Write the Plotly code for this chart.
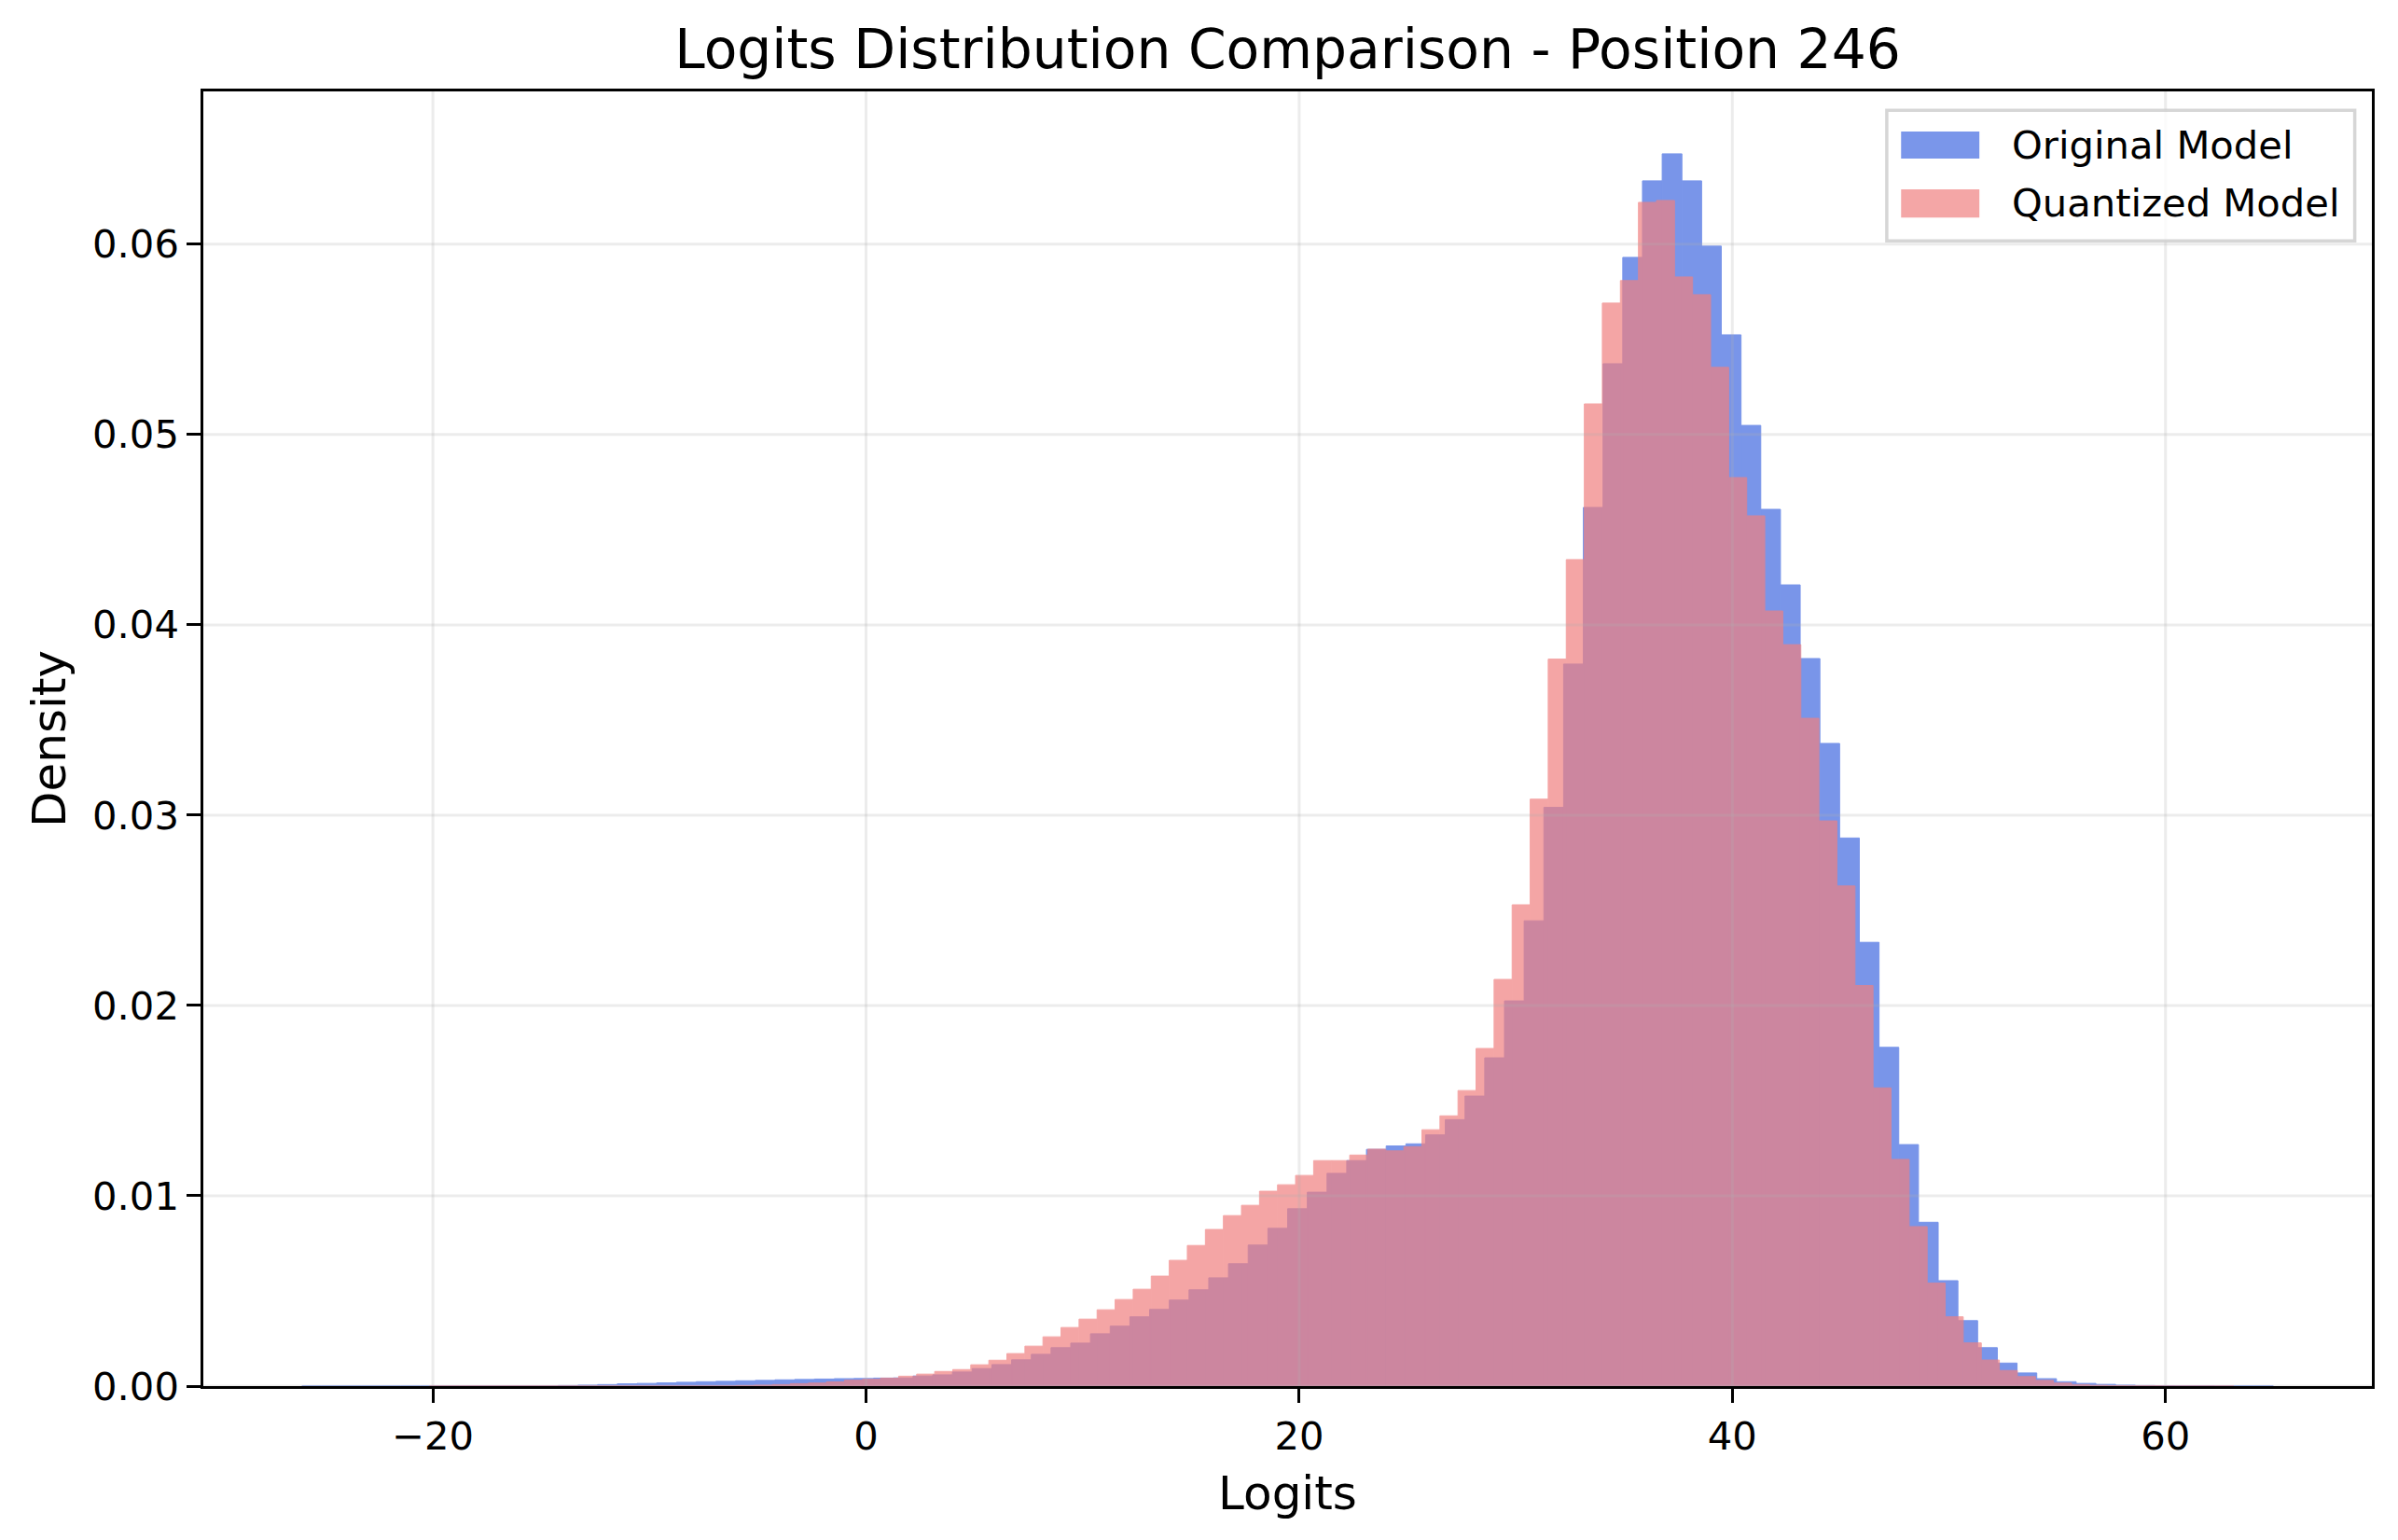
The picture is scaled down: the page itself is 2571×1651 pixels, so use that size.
import numpy as np
import plotly.graph_objects as go

# ---------------- data ----------------
BLUE_FIRST_EDGE = -26.05   # left edge of first "Original Model" bin
BLUE_BIN_WIDTH = 0.9103
RED_FIRST_EDGE = -20.16    # left edge of first "Quantized Model" bin
RED_BIN_WIDTH = 0.8332

original_density = [
    0.0, 0.0, 0.0, 0.0, 0.0, 0.0, 0.0, 0.0, 0.0, 0.0, 0.0, 0.0, 0.0,
    0.00003, 0.00005, 0.00008, 0.00012, 0.00014, 0.00017, 0.0002, 0.00023,
    0.00025, 0.00028, 0.0003, 0.00033, 0.00035, 0.00037, 0.00039, 0.0004, 0.00042,
    0.00043, 0.00053, 0.00059, 0.00074, 0.00092, 0.00113, 0.00138, 0.00167,
    0.00202, 0.00226, 0.00275, 0.00315, 0.00364, 0.00403, 0.00452, 0.00506,
    0.00569, 0.00643, 0.00741, 0.00829, 0.00932,
    0.01019, 0.01118, 0.01185, 0.01244, 0.01262, 0.01273, 0.0132, 0.0140,
    0.01524, 0.01725, 0.02024, 0.02445, 0.03041,
    0.03794, 0.04617, 0.05372, 0.05931, 0.06333, 0.06475, 0.06333, 0.0599,
    0.05524, 0.05048, 0.04607, 0.0421, 0.03823, 0.03377, 0.0288,
    0.02332, 0.0178, 0.01269, 0.00861, 0.00554, 0.00344, 0.00202, 0.00121,
    0.00069, 0.00039, 0.00023, 0.00014, 0.00009, 0.00005, 0.00003,
    0.00002, 0.00001, 0.00001, 0.0, 0.0, 0.0,
]

quantized_density = [
    0.0, 0.0, 0.0, 0.0, 0.0, 0.0, 0.0, 0.0, 0.0, 0.0, 0.0, 0.0, 0.0, 0.0, 0.0, 0.0, 0.0,
    0.00003, 0.00005, 0.00008, 0.00013, 0.00016,
    0.00022, 0.00031, 0.00036, 0.00042, 0.00052, 0.00063, 0.00077, 0.00087,
    0.00112, 0.00136, 0.00171, 0.0021, 0.00259, 0.00308, 0.00352, 0.00401,
    0.00455, 0.00509, 0.00578,
    0.00661, 0.00739, 0.00823, 0.00896, 0.0095, 0.01024, 0.01058, 0.01107,
    0.01185, 0.01185, 0.01214, 0.01245, 0.01236, 0.01258, 0.01347, 0.0142,
    0.01553, 0.01774, 0.02137, 0.02529, 0.03084,
    0.0382, 0.04343, 0.05161, 0.05691, 0.05809, 0.0622, 0.0623, 0.05828,
    0.05735, 0.05353, 0.04774, 0.04573, 0.04073, 0.03896, 0.03509, 0.0297,
    0.02628, 0.02105, 0.01567, 0.01191, 0.00838, 0.00541, 0.00364, 0.00227,
    0.00137, 0.00082, 0.0005, 0.0003, 0.00016, 0.00008, 0.00004,
    0.00002, 0.00001, 0.00001, 0.0, 0.0, 0.0, 0.0,
]

series_names = ["Original Model", "Quantized Model"]
x_tick_values = [-20, 0, 20, 40, 60]
x_tick_labels = ["\u221220", "0", "20", "40", "60"]
y_tick_values = [0.0, 0.01, 0.02, 0.03, 0.04, 0.05, 0.06]
y_tick_labels = ["0.00", "0.01", "0.02", "0.03", "0.04", "0.05", "0.06"]

X_RANGE = [-30.6, 69.53]
Y_RANGE = [0.0, 0.06803]

# ---------------- styling ----------------
FONT = "DejaVu Sans"
BLUE = "rgb(65,105,225)"
RED = "rgb(240,128,128)"
ALPHA = 0.7
TICK_PX = 41.7
LABEL_PX = 50
TITLE_PX = 58.3
GRID = "rgba(176,176,176,0.24)"
LW = 3.3
BODY_OFFSET = 8  # default page margin of the html body
FIG_W = 2571 - BODY_OFFSET
FIG_H = 1651 - BODY_OFFSET

orig_centers = BLUE_FIRST_EDGE + BLUE_BIN_WIDTH * (np.arange(len(original_density)) + 0.5)
quant_centers = RED_FIRST_EDGE + RED_BIN_WIDTH * (np.arange(len(quantized_density)) + 0.5)

fig = go.Figure()
fig.add_trace(go.Bar(
    x=orig_centers, y=original_density, width=BLUE_BIN_WIDTH,
    name=series_names[0], marker=dict(color=BLUE, line=dict(color=BLUE, width=1)),
    opacity=ALPHA, showlegend=False,
))
fig.add_trace(go.Bar(
    x=quant_centers, y=quantized_density, width=RED_BIN_WIDTH,
    name=series_names[1], marker=dict(color=RED, line=dict(color=RED, width=1)),
    opacity=ALPHA, showlegend=False,
))

# gridlines drawn above the bars (as matplotlib does)
shapes = []
for xv in x_tick_values:
    shapes.append(dict(type="line", xref="x", yref="paper", x0=xv, x1=xv, y0=0, y1=1,
                       line=dict(color=GRID, width=3), layer="above"))
for yv in y_tick_values:
    shapes.append(dict(type="line", xref="paper", yref="y", x0=0, x1=1, y0=yv, y1=yv,
                       line=dict(color=GRID, width=3), layer="above"))

# legend (drawn manually to match matplotlib's large patches)
shapes.append(dict(type="rect", xref="paper", yref="paper", x0=0.7763, x1=0.9921,
                   y0=0.8846, y1=0.9854, fillcolor="rgba(255,255,255,0.8)",
                   line=dict(color="rgba(204,204,204,0.8)", width=3.5), layer="above"))
legend_rows = [(0.9482, 0.9691, BLUE, 0.9586), (0.9025, 0.9244, RED, 0.9136)]
annotations = []
for (ya, yb, col, yc), name in zip(legend_rows, series_names):
    shapes.append(dict(type="rect", xref="paper", yref="paper", x0=0.7829, x1=0.8190,
                       y0=ya, y1=yb, fillcolor=col, opacity=ALPHA,
                       line=dict(width=0), layer="above"))
    annotations.append(dict(xref="paper", yref="paper", x=0.8333, y=yc, text=name,
                            showarrow=False, xanchor="left", yanchor="middle",
                            font=dict(family=FONT, size=TICK_PX, color="black")))

axis_common = dict(
    showline=True, linecolor="black", linewidth=LW, mirror=True,
    ticks="outside", ticklen=14.6, tickwidth=LW, tickcolor="black",
    showgrid=False, zeroline=False,
    tickfont=dict(family=FONT, size=TICK_PX, color="black"),
)

fig.update_layout(
    width=FIG_W, height=FIG_H,
    margin=dict(l=218 - BODY_OFFSET, r=28, t=98 - BODY_OFFSET, b=165, pad=0),
    paper_bgcolor="white", plot_bgcolor="white",
    barmode="overlay",
    font=dict(family=FONT, color="black"),
    title=dict(text="Logits Distribution Comparison - Position 246",
               x=0.5, xref="paper", xanchor="center",
               y=1 - (53 - BODY_OFFSET) / FIG_H, yref="container", yanchor="middle",
               font=dict(family=FONT, size=TITLE_PX, color="black")),
    xaxis=dict(range=X_RANGE, tickvals=x_tick_values, ticktext=x_tick_labels,
               title=dict(text="Logits", font=dict(family=FONT, size=LABEL_PX), standoff=21),
               **axis_common),
    yaxis=dict(range=Y_RANGE, tickvals=y_tick_values, ticktext=y_tick_labels,
               title=dict(text="Density", font=dict(family=FONT, size=LABEL_PX), standoff=13),
               **axis_common),
    shapes=shapes,
    annotations=annotations,
)

fig.write_html("out.html")
